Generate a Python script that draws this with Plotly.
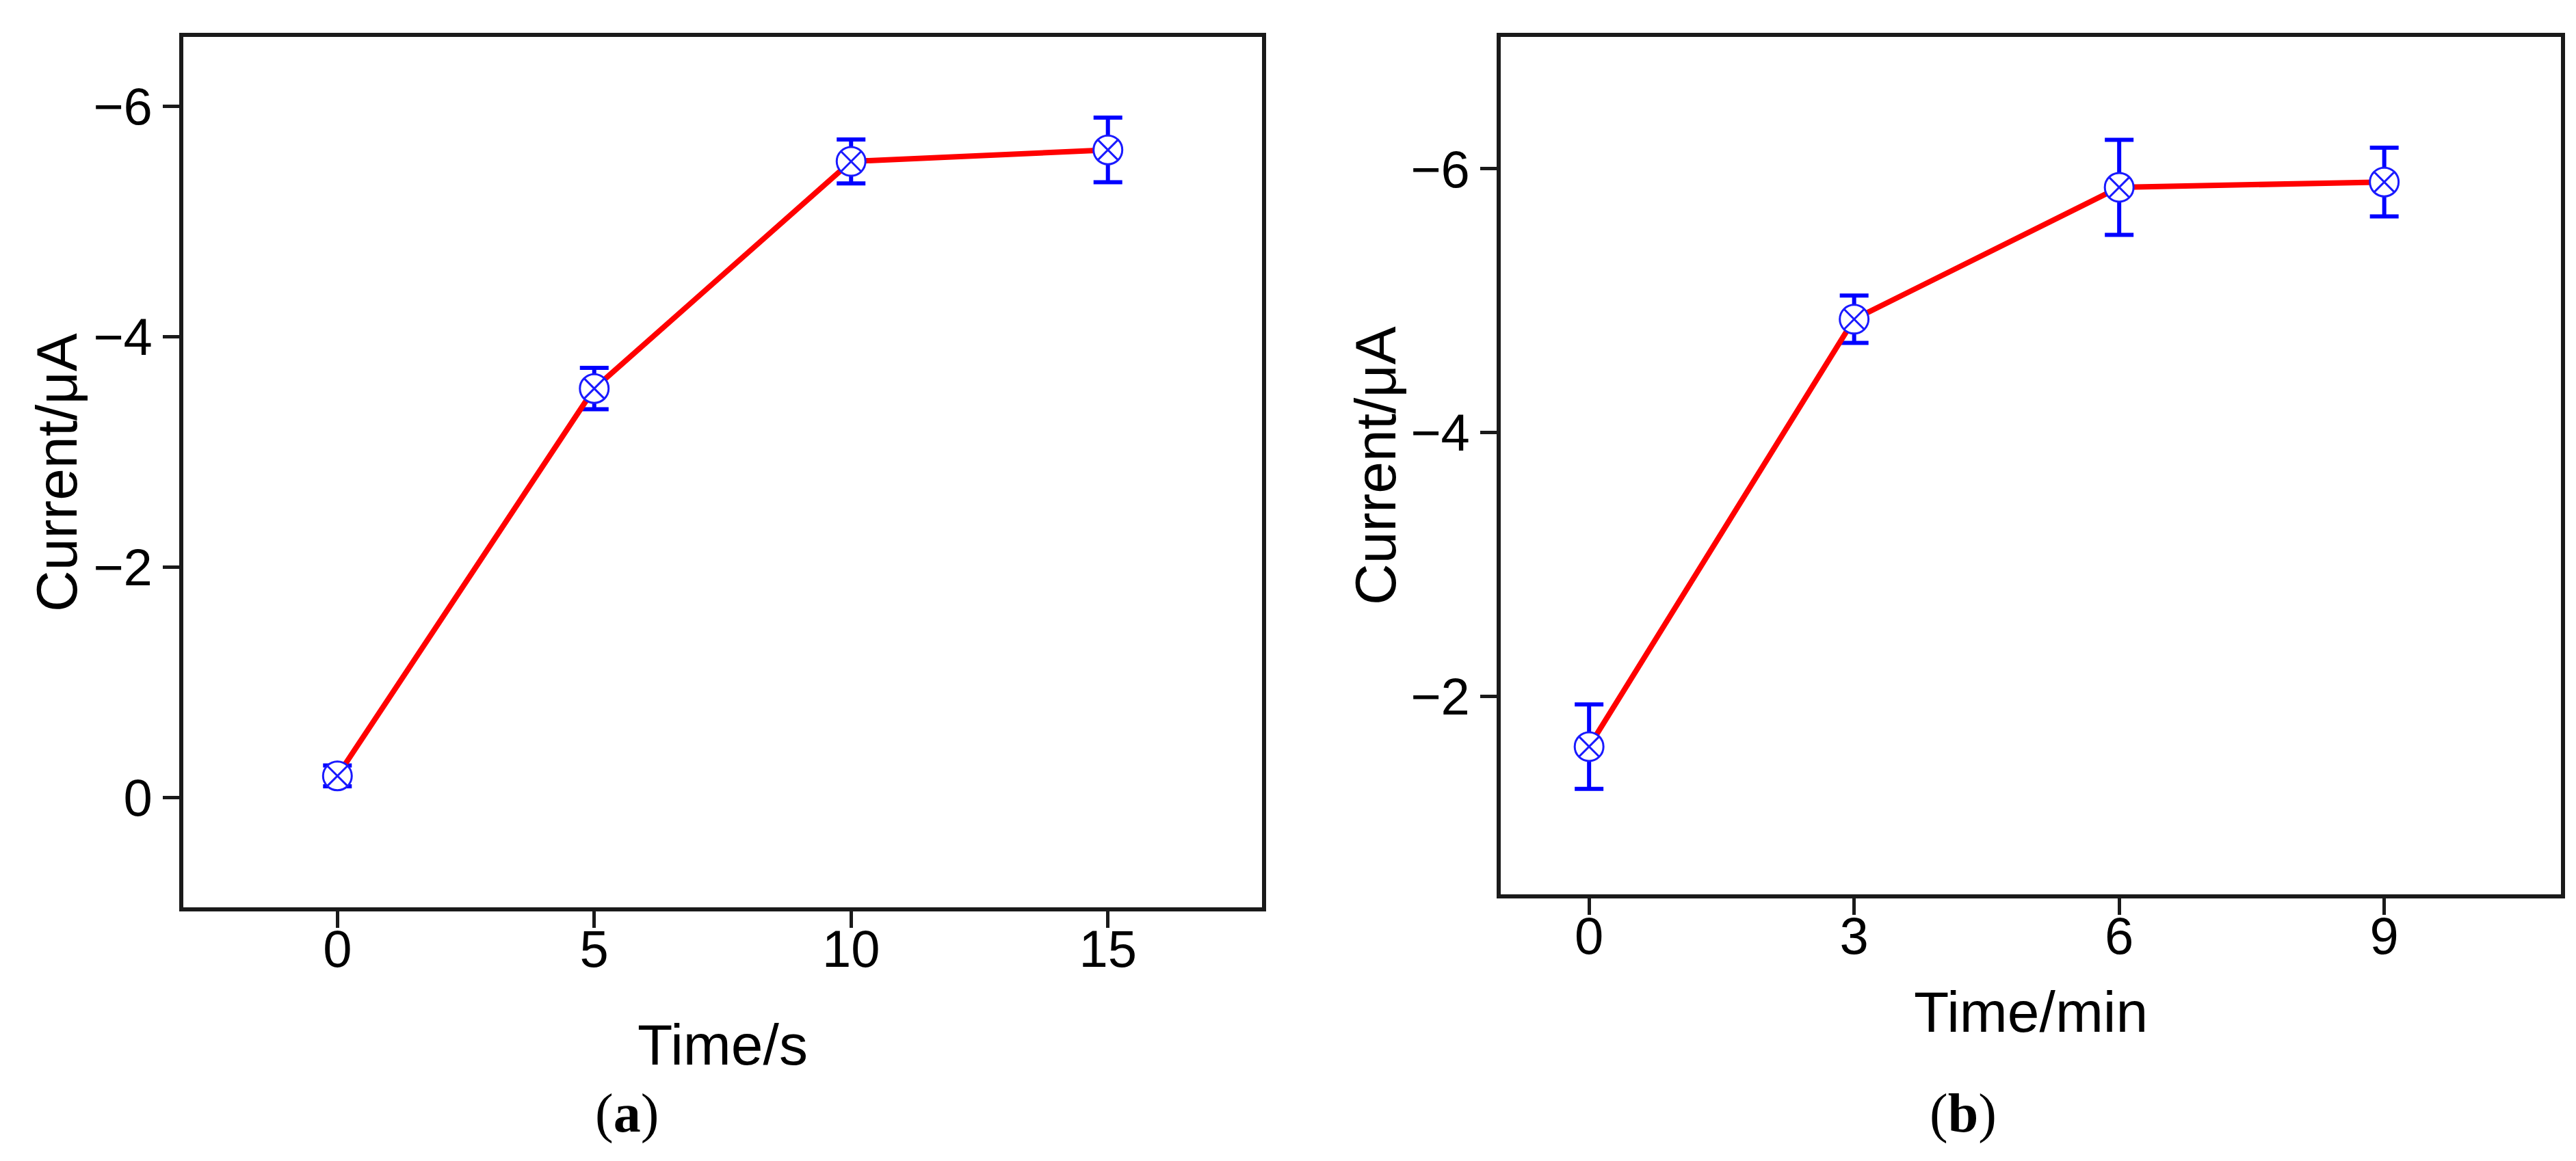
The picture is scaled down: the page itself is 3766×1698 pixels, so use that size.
import plotly.graph_objects as go

W, H = 3766, 1698

# panel (a): current vs reaction time in seconds
time_a = [0, 5, 10, 15]
current_a = [-0.19, -3.55, -5.52, -5.62]
err_a = [0.09, 0.18, 0.19, 0.28]

# panel (b): current vs incubation time in minutes
time_b = [0, 3, 6, 9]
current_b = [-1.62, -4.86, -5.86, -5.90]
err_b = [0.32, 0.18, 0.36, 0.26]

x_ticks_a = [0, 5, 10, 15]
x_ticks_b = [0, 3, 6, 9]
y_ticks_a = [-6, -4, -2, 0]
y_ticks_b = [-6, -4, -2]


def px_x(v):
    return v / W


def px_y(v):
    return 1 - v / H


def make_trace(x, y, err, xa, ya):
    return go.Scatter(
        x=x,
        y=y,
        xaxis=xa,
        yaxis=ya,
        mode="lines+markers",
        line=dict(color="#ff0000", width=8),
        marker=dict(
            symbol="circle-x",
            size=42,
            color="white",
            line=dict(color="#1a1aff", width=3),
        ),
        error_y=dict(
            type="data",
            array=err,
            visible=True,
            color="#0000ff",
            thickness=6,
            width=21,
        ),
        showlegend=False,
    )


fig = go.Figure()
fig.add_trace(make_trace(time_a, current_a, err_a, "x", "y"))
fig.add_trace(make_trace(time_b, current_b, err_b, "x2", "y2"))

tick_font = dict(family="Liberation Sans, Arial, sans-serif", size=76, color="black")
axis_style = dict(
    showline=True,
    mirror=True,
    linecolor="#1a1a1a",
    linewidth=6,
    ticks="outside",
    ticklen=24,
    tickwidth=5,
    tickcolor="#1a1a1a",
    showgrid=False,
    zeroline=False,
    tickfont=tick_font,
)

fig.update_layout(
    width=W,
    height=H,
    margin=dict(l=0, r=0, t=0, b=0),
    paper_bgcolor="white",
    plot_bgcolor="white",
    xaxis=dict(
        domain=[px_x(260), px_x(1837)],
        range=[-3, 18],
        tickvals=x_ticks_a,
        anchor="y",
        ticklabelstandoff=-34,
        **axis_style,
    ),
    yaxis=dict(
        domain=[px_y(1319), px_y(46)],
        range=[0.95, -6.6],
        tickvals=y_ticks_a,
        anchor="x",
        **axis_style,
    ),
    xaxis2=dict(
        domain=[px_x(2186), px_x(3736)],
        range=[-1, 11],
        tickvals=x_ticks_b,
        anchor="y2",
        ticklabelstandoff=-34,
        **axis_style,
    ),
    yaxis2=dict(
        domain=[px_y(1300), px_y(46)],
        range=[-0.5, -7],
        tickvals=y_ticks_b,
        anchor="x2",
        **axis_style,
    ),
)

title_font = dict(family="Liberation Sans, Arial, sans-serif", size=84, color="black")
label_font = dict(family="Liberation Serif, Times New Roman, serif", size=80, color="black")

annotations = [
    # axis titles
    dict(x=px_x(1048), y=px_y(1520), text="Time/s", font=title_font),
    dict(x=px_x(2961), y=px_y(1472), text="Time/min", font=title_font),
    dict(x=px_x(75), y=px_y(683), text="Current/μA", font=title_font, textangle=-90),
    dict(x=px_x(2003), y=px_y(673), text="Current/μA", font=title_font, textangle=-90),
    # panel labels
    dict(x=px_x(908), y=px_y(1620), text="(<b>a</b>)", font=label_font),
    dict(x=px_x(2862), y=px_y(1620), text="(<b>b</b>)", font=label_font),
]
for a in annotations:
    a.update(xref="paper", yref="paper", showarrow=False, xanchor="center", yanchor="middle")
fig.update_layout(annotations=annotations)

fig.write_html("out.html")
